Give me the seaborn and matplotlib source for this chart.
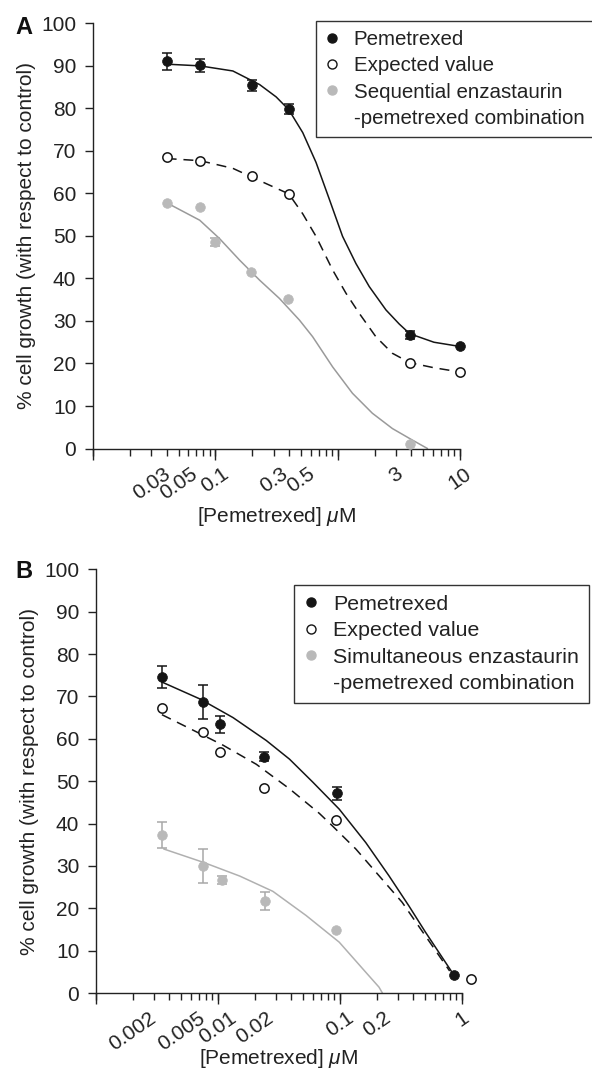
import numpy as np
import matplotlib
matplotlib.use('Agg')
import matplotlib.pyplot as plt
import seaborn as sns
from matplotlib.lines import Line2D
from matplotlib.ticker import LogLocator, FixedLocator, FixedFormatter, NullFormatter

# ---- panel A : sequential schedule (doses in uM, growth in %) ----
a_dose = [0.04, 0.075, 0.2, 0.4, 3.9, 10]
a_pem = [91.1, 90.1, 85.4, 79.8, 26.7, 24.0]
a_pem_err = [2.0, 1.6, 1.2, 1.2, 1.0, 0.0]
a_exp = [68.6, 67.7, 64.1, 59.9, 20.2, 18.0]
a_comb_dose = [0.04, 0.075, 0.1, 0.196, 0.39, 3.88]
a_comb = [57.8, 56.9, 48.6, 41.6, 35.2, 1.1]
a_comb_err = [0.0, 0.0, 1.0, 0.0, 0.0, 0.0]

# fitted curves
a_pem_fit_x = [0.04, 0.075, 0.139, 0.23, 0.314, 0.398, 0.518, 0.665, 0.855, 1.096, 1.41, 1.81, 2.48, 3.18, 3.88, 6.12, 10]
a_pem_fit_y = [90.4, 90.0, 88.8, 85.6, 82.7, 79.7, 74.3, 67.3, 58.6, 49.9, 43.5, 38.1, 32.6, 29.3, 27.0, 25.0, 24.0]
a_exp_fit_x = [0.04, 0.075, 0.139, 0.23, 0.398, 0.518, 0.665, 0.909, 1.17, 1.50, 2.05, 2.80, 3.88, 6.12, 10]
a_exp_fit_y = [68.2, 67.7, 65.9, 63.0, 59.9, 55.2, 49.9, 42.0, 36.5, 31.8, 26.3, 22.4, 20.2, 19.0, 18.0]
a_comb_fit_x = [0.04, 0.0745, 0.108, 0.158, 0.23, 0.334, 0.487, 0.624, 0.909, 1.32, 1.92, 2.80, 4.07, 5.42]
a_comb_fit_y = [57.8, 53.7, 49.4, 44.3, 39.6, 35.3, 30.2, 26.3, 19.2, 13.0, 8.3, 4.7, 2.0, 0.0]

a_ticks = [0.03, 0.05, 0.1, 0.3, 0.5, 3, 10]
a_ticklabels = ['0.03', '0.05', '0.1', '0.3', '0.5', '3', '10']
a_legend = ['Pemetrexed', 'Expected value', 'Sequential enzastaurin', '-pemetrexed combination']

# ---- panel B : simultaneous schedule ----
b_dose = [0.0035, 0.0075, 0.0104, 0.0238, 0.094, 0.86]
b_pem = [74.6, 68.6, 63.4, 55.8, 47.1, 4.3]
b_pem_err = [2.5, 4.0, 2.0, 1.0, 1.5, 0.0]
b_exp_dose = [0.0035, 0.0075, 0.0104, 0.0238, 0.092, 1.18]
b_exp = [67.3, 61.6, 56.9, 48.4, 40.8, 3.4]
b_comb_dose = [0.0035, 0.0075, 0.0108, 0.0245, 0.093]
b_comb = [37.3, 30.0, 26.7, 21.7, 14.9]
b_comb_err = [3.1, 4.0, 1.0, 2.1, 0.0]

b_pem_fit_x = [0.00347, 0.00712, 0.0133, 0.0249, 0.0386, 0.0598, 0.0987, 0.163, 0.252, 0.367, 0.502, 0.853]
b_pem_fit_y = [73.4, 69.4, 65.0, 59.6, 55.2, 49.8, 43.4, 35.5, 27.7, 20.6, 14.4, 4.4]
b_exp_fit_x = [0.00347, 0.0059, 0.0110, 0.0206, 0.0386, 0.0678, 0.0871, 0.135, 0.209, 0.324, 0.502, 0.794]
b_exp_fit_y = [65.7, 62.4, 58.5, 54.0, 48.2, 42.4, 39.4, 34.0, 27.7, 21.4, 13.5, 5.2]
b_comb_fit_x = [0.00359, 0.00767, 0.0151, 0.0282, 0.0528, 0.0987, 0.163, 0.209, 0.223]
b_comb_fit_y = [34.0, 30.8, 27.6, 24.0, 18.3, 12.0, 4.9, 1.4, 0.0]

b_ticks = [0.002, 0.005, 0.01, 0.02, 0.1, 0.2, 1]
b_ticklabels = ['0.002', '0.005', '0.01', '0.02', '0.1', '0.2', '1']
b_legend = ['Pemetrexed', 'Expected value', 'Simultaneous enzastaurin', '-pemetrexed combination']

y_ticks = list(range(0, 101, 10))

sns.set_theme(style="ticks")
plt.rcParams['font.family'] = ['Liberation Sans', 'DejaVu Sans']
plt.rcParams['mathtext.fontset'] = 'custom'
plt.rcParams['mathtext.it'] = 'Liberation Sans:italic'

BLACK = '#151515'
GREY_PT = '#b9b9b9'
TXT = '#222222'
FS = 15
DASH = (0, (6.5, 4.5))


def draw_errors(ax, x, y, err, color):
    x, y, err = np.asarray(x), np.asarray(y), np.asarray(err)
    keep = err > 0
    ax.errorbar(x[keep], y[keep], yerr=err[keep], fmt='none', ecolor=color,
                elinewidth=1.1, capsize=3.6, capthick=1.1, zorder=3, clip_on=False)


def style_axis(ax, xlim, ticks, ticklabels, xlabel_y):
    ax.set_xscale('log')
    ax.set_xlim(*xlim)
    ax.set_ylim(0, 100)
    sns.despine(ax=ax)
    for s in ['left', 'bottom']:
        ax.spines[s].set_linewidth(1.0)
        ax.spines[s].set_color(TXT)
    # every 1..9 log position gets a short tick
    ax.xaxis.set_major_locator(LogLocator(base=10, subs=np.arange(1, 10)))
    ax.xaxis.set_major_formatter(NullFormatter())
    ax.tick_params(axis='x', which='major', length=5, width=1.0, color=TXT)
    # tick labels ride on invisible minor ticks
    ax.xaxis.remove_overlapping_locs = False
    ax.xaxis.set_minor_locator(FixedLocator(ticks))
    ax.xaxis.set_minor_formatter(FixedFormatter(ticklabels))
    ax.tick_params(axis='x', which='minor', length=0, pad=11, labelsize=FS,
                   labelcolor=TXT, labelrotation=35)
    # decades a bit longer
    sec = ax.secondary_xaxis('bottom')
    sec.set_xticks([10.0 ** k for k in range(-3, 2)])
    sec.xaxis.set_major_formatter(NullFormatter())
    sec.xaxis.set_minor_locator(FixedLocator([]))
    sec.tick_params(length=8, width=1.0, color=TXT)
    sec.spines['bottom'].set_visible(False)

    ax.set_yticks(y_ticks)
    ax.tick_params(axis='y', length=6, width=1.0, pad=6, labelsize=FS,
                   color=TXT, labelcolor=TXT)
    ax.set_ylabel('% cell growth (with respect to control)', fontsize=FS, color=TXT)
    ax.yaxis.set_label_coords(-0.155, 0.5)
    ax.set_xlabel('[Pemetrexed] $\\mathit{\\mu}$M', fontsize=FS, color=TXT)
    ax.xaxis.set_label_coords(0.5, xlabel_y)


def add_legend(ax, labels, anchor, size):
    handles = [
        Line2D([], [], ls='none', marker='o', ms=6.5, mfc=BLACK, mec=BLACK),
        Line2D([], [], ls='none', marker='o', ms=6.5, mfc='white', mec=BLACK, mew=1.0),
        Line2D([], [], ls='none', marker='o', ms=6.5, mfc=GREY_PT, mec=GREY_PT),
        Line2D([], [], ls='none', marker=None),
    ]
    leg = ax.legend(handles, labels, loc='upper left', bbox_to_anchor=anchor,
                    bbox_transform=ax.figure.transFigure, borderaxespad=0,
                    frameon=True, fancybox=False, framealpha=1, edgecolor='#333333',
                    fontsize=size, handlelength=0.7, handletextpad=0.68,
                    borderpad=0.45, labelspacing=0.35)
    leg.get_frame().set_linewidth(1.0)
    for t in leg.get_texts():
        t.set_color(TXT)


fig = plt.figure(figsize=(5.92, 10.71), dpi=100)
axA = fig.add_axes([0.1571, 0.5812, 0.620, 0.397])
axB = fig.add_axes([0.1622, 0.0728, 0.618, 0.3956])

for ax in (axA, axB):
    ax.set_xscale('log')

# ---- panel A ----
sns.lineplot(x=a_pem_fit_x, y=a_pem_fit_y, ax=axA, color=BLACK, lw=1.1,
             estimator=None, sort=False, legend=False)
sns.lineplot(x=a_exp_fit_x, y=a_exp_fit_y, ax=axA, color=BLACK, lw=1.1,
             linestyle=DASH, estimator=None, sort=False, legend=False)
sns.lineplot(x=a_comb_fit_x, y=a_comb_fit_y, ax=axA, color='#9a9a9a', lw=1.1,
             estimator=None, sort=False, legend=False)
draw_errors(axA, a_dose, a_pem, a_pem_err, BLACK)
draw_errors(axA, a_comb_dose, a_comb, a_comb_err, '#a8a8a8')
sns.scatterplot(x=a_dose, y=a_pem, ax=axA, color=BLACK, s=50, edgecolor=BLACK,
                linewidth=0.5, zorder=4, clip_on=False, legend=False)
sns.scatterplot(x=a_dose, y=a_exp, ax=axA, color='white', s=45, edgecolor=BLACK,
                linewidth=1.1, zorder=4, clip_on=False, legend=False)
sns.scatterplot(x=a_comb_dose, y=a_comb, ax=axA, color=GREY_PT, s=48, edgecolor=GREY_PT,
                linewidth=0.5, zorder=4, clip_on=False, legend=False)
style_axis(axA, (0.01, 10), a_ticks, a_ticklabels, -0.133)
add_legend(axA, a_legend, (316 / 592, 1 - 21 / 1071), 14.8)

# ---- panel B ----
sns.lineplot(x=b_pem_fit_x, y=b_pem_fit_y, ax=axB, color=BLACK, lw=1.1,
             estimator=None, sort=False, legend=False)
sns.lineplot(x=b_exp_fit_x, y=b_exp_fit_y, ax=axB, color=BLACK, lw=1.1,
             linestyle=DASH, estimator=None, sort=False, legend=False)
sns.lineplot(x=b_comb_fit_x, y=b_comb_fit_y, ax=axB, color='#b0b0b0', lw=1.1,
             estimator=None, sort=False, legend=False)
draw_errors(axB, b_dose, b_pem, b_pem_err, BLACK)
draw_errors(axB, b_comb_dose, b_comb, b_comb_err, '#a8a8a8')
sns.scatterplot(x=b_dose, y=b_pem, ax=axB, color=BLACK, s=50, edgecolor=BLACK,
                linewidth=0.5, zorder=4, clip_on=False, legend=False)
sns.scatterplot(x=b_exp_dose, y=b_exp, ax=axB, color='white', s=45, edgecolor=BLACK,
                linewidth=1.1, zorder=4, clip_on=False, legend=False)
sns.scatterplot(x=b_comb_dose, y=b_comb, ax=axB, color=GREY_PT, s=48, edgecolor=GREY_PT,
                linewidth=0.5, zorder=4, clip_on=False, legend=False)
style_axis(axB, (0.001, 1), b_ticks, b_ticklabels, -0.127)
add_legend(axB, b_legend, (294 / 592, 1 - 585 / 1071), 15.4)

fig.text(15 / 592, 1 - 27 / 1071, 'A', fontsize=17, fontweight='bold', va='center', color='#111111')
fig.text(15 / 592, 1 - 571 / 1071, 'B', fontsize=17, fontweight='bold', va='center', color='#111111')

fig.savefig('out.png', dpi=100, facecolor='white')
